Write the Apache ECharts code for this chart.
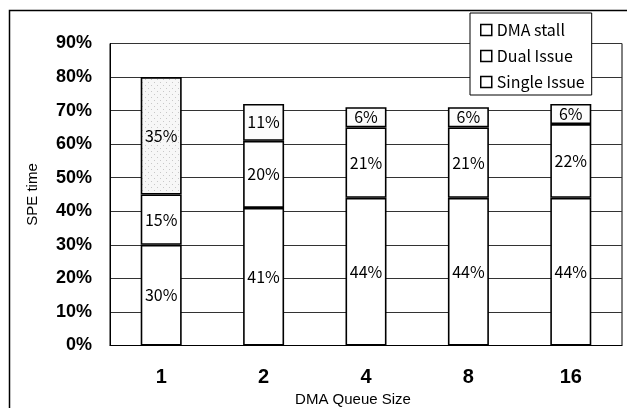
<!DOCTYPE html>
<html>
<head>
<meta charset="utf-8">
<script src="https://cdn.jsdelivr.net/npm/echarts@6/dist/echarts.min.js"></script>
<style>html,body{margin:0;padding:0;background:#fff}#c{width:627px;height:408px}</style>
</head>
<body>
<div id="c"></div>
<script>
const categories = ['1', '2', '4', '8', '16'];
const singleIssue = [30, 41, 44, 44, 44];
const dualIssue = [15, 20, 21, 21, 22];
const dmaStall = [35, 11, 6, 6, 6];
const yTicks = [0, 10, 20, 30, 40, 50, 60, 70, 80, 90];

// stipple pattern for the first DMA stall bar
const pc = document.createElement('canvas');
pc.width = 6; pc.height = 6;
const pctx = pc.getContext('2d');
pctx.fillStyle = '#f7f7f7'; pctx.fillRect(0, 0, 6, 6);
pctx.fillStyle = '#c8c8c8';
pctx.fillRect(1, 1, 1, 1); pctx.fillRect(4, 4, 1, 1);

const chart = echarts.init(document.getElementById('c'), null, {renderer: 'canvas'});
const labelStyle = {
  show: true, position: 'inside', formatter: '{c}%',
  color: '#000', fontSize: 16, fontFamily: 'Noto Sans CJK JP'
};
const baseItem = {borderColor: '#000', borderWidth: 1.6};
function mk(name, data, fill) {
  return {
    name, type: 'bar', stack: 'a', data, barWidth: 41,
    itemStyle: Object.assign({color: fill}, baseItem),
    label: labelStyle, emphasis: {disabled: true}
  };
}
chart.setOption({
  animation: false,
  backgroundColor: '#fff',
  graphic: [{
    type: 'rect', shape: {x: 9.5, y: 10.5, width: 700, height: 500},
    style: {fill: 'none', stroke: '#000', lineWidth: 1.5}, silent: true, z: -1
  }],
  grid: {left: 110, top: 43.5, right: 5, bottom: 62.5, outerBoundsMode: 'none', containLabel: false,
    show: true, borderColor: '#000', borderWidth: 1, backgroundColor: 'transparent'},
  legend: {
    orient: 'vertical', left: 470, top: 13, width: 127,
    data: ['DMA stall', 'Dual Issue', 'Single Issue'],
    backgroundColor: '#fff', borderColor: '#000', borderWidth: 1,
    padding: [8, 7, 4, 10], itemGap: 8, itemWidth: 11, itemHeight: 11,
    icon: 'rect',
    itemStyle: {color: '#fff', borderColor: '#000', borderWidth: 1.5},
    textStyle: {color: '#000', fontSize: 16, fontFamily: 'Noto Sans CJK JP', lineHeight: 18}
  },
  xAxis: {
    type: 'category', data: categories,
    name: 'DMA Queue Size', nameLocation: 'middle', nameGap: 45,
    nameTextStyle: {color: '#000', fontSize: 15, fontFamily: 'Liberation Sans', padding: [0, 26, 0, 0]},
    axisLine: {lineStyle: {color: '#000', width: 1}},
    axisTick: {inside: true, length: 4, lineStyle: {color: '#000'}},
    axisLabel: {color: '#000', fontSize: 20, fontWeight: 'bold', fontFamily: 'Liberation Sans', margin: 22}
  },
  yAxis: {
    type: 'value', min: 0, max: yTicks[yTicks.length - 1], interval: 10,
    name: 'SPE time', nameLocation: 'middle', nameGap: 70,
    nameTextStyle: {color: '#000', fontSize: 15, fontFamily: 'Liberation Sans'},
    axisLine: {show: true, lineStyle: {color: '#000', width: 1}},
    axisTick: {show: false},
    splitLine: {lineStyle: {color: '#333', width: 1}},
    axisLabel: {color: '#000', fontSize: 18, fontWeight: 'bold', fontFamily: 'Liberation Sans', margin: 18, formatter: '{value}%'}
  },
  series: [
    mk('Single Issue', singleIssue, '#fff'),
    mk('Dual Issue', dualIssue, '#fff'),
    Object.assign(mk('DMA stall', dmaStall, '#fff'), {
      itemStyle: Object.assign({
        color: function (p) { return p.dataIndex === 0 ? {image: pc, repeat: 'repeat'} : '#fcfcfc'; }
      }, baseItem)
    })
  ]
});
</script>
</body>
</html>
